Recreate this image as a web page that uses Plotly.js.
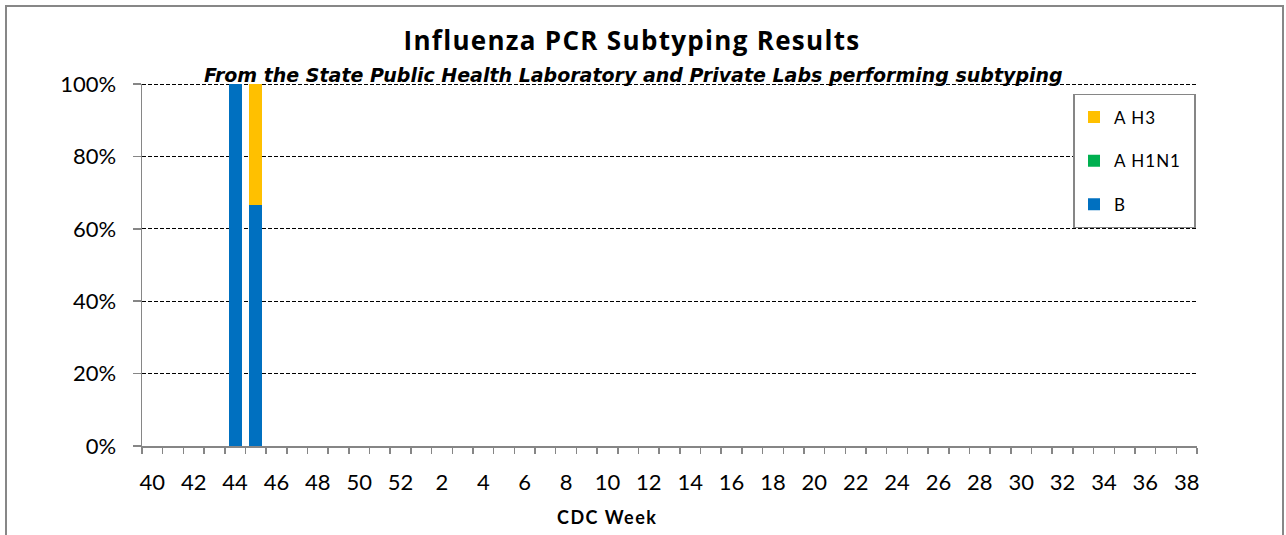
<!DOCTYPE html>
<html>
<head>
<meta charset="utf-8">
<script src="https://cdn.plot.ly/plotly-3.0.1.min.js"></script>
<style>
html,body{margin:0;padding:0;background:#fff;}
#chart{width:1286px;height:535px;}
#chart .gtitle{letter-spacing:1.3px;}
#chart .legendtext{letter-spacing:1px;}
#chart .annotation.cdc text{letter-spacing:1.5px;}
#chart .ygrid, #chart .shapelayer path{shape-rendering:crispEdges;}
</style>
</head>
<body>
<div id="chart"></div>
<script>
// CDC weeks (season order)
const weeks = ["40","41","42","43","44","45","46","47","48","49","50","51","52",
  "1","2","3","4","5","6","7","8","9","10","11","12","13","14","15","16","17","18","19",
  "20","21","22","23","24","25","26","27","28","29","30","31","32","33","34","35","36","37","38"];
// Share of subtyped specimens per week (fraction), weeks 40-45
const shareB    = [null,null,null,null,1.0,0.667];
const shareH1N1 = [null,null,null,null,0,0];
const shareH3   = [null,null,null,null,0,0.333];
// Tick labels: every other week
const tickLabels = weeks.map((w,i)=> i%2===0 ? w : "");

const FONT = "Lato, 'Open Sans', sans-serif";
const weeksShown = weeks.slice(0, shareB.length);

const traces = [
  {name:"B", x:weeksShown, y:shareB, type:"bar", marker:{color:"#0070C0"}, legendrank:3, legendgroup:"g3"},
  {name:"A H1N1", x:weeksShown, y:shareH1N1, type:"bar", marker:{color:"#00B050"}, legendrank:2, legendgroup:"g2"},
  {name:"A H3", x:weeksShown, y:shareH3, type:"bar", marker:{color:"#FFC000"}, legendrank:1, legendgroup:"g1"}
];

const px2x = p => (p-142)/1055;
const px2y = p => (446.5-p)/362;

const layout = {
  width:1286, height:535,
  margin:{l:142, r:89, t:84, b:89},
  paper_bgcolor:"#fff", plot_bgcolor:"#fff",
  font:{family:FONT, color:"#000"},
  barmode:"stack", bargap:0.37,
  showlegend:true,
  title:{text:"<b>Influenza PCR Subtyping Results</b>", font:{family:"'Open Sans', sans-serif", size:26, color:"#000"},
    x:632/1286, xanchor:"center", y:1-41/535, yanchor:"middle"},
  annotations:[{
    text:"<b><i>From the State Public Health Laboratory and Private Labs performing subtyping</i></b>",
    xref:"paper", yref:"paper", x:px2x(633), y:px2y(75), xanchor:"center", yanchor:"middle",
    showarrow:false, font:{family:"'DejaVu Sans', sans-serif", size:19, color:"#000"}
  },{
    text:"<b>CDC Week</b>", name:"cdc",
    xref:"paper", yref:"paper", x:px2x(607), y:px2y(517), xanchor:"center", yanchor:"middle",
    showarrow:false, font:{family:FONT, size:18, color:"#000"}
  }],
  xaxis:{
    type:"category", categoryorder:"array", categoryarray:weeks,
    range:[-0.5, weeks.length-0.5],
    tickmode:"array", tickvals:weeks, ticktext:tickLabels,
    tickson:"boundaries", ticks:"outside", ticklen:6, tickcolor:"#868686", tickwidth:1.5,
    showline:true, linecolor:"#868686", linewidth:1.5,
    showgrid:false, tickfont:{size:22, family:FONT}, tickangle:0, ticklabelstandoff:16
  },
  yaxis:{
    range:[0,1], tickmode:"linear", tick0:0, dtick:0.2, tickformat:".0%",
    showgrid:true, gridcolor:"#000", griddash:"4px,2px", gridwidth:1,
    zeroline:false, showline:true, linecolor:"#868686", linewidth:1.5,
    ticks:"outside", ticklen:8, tickcolor:"#868686", tickwidth:1.5,
    tickfont:{size:22, family:FONT}, ticklabelstandoff:12
  },
  legend:{
    x:px2x(1074), y:px2y(100), xanchor:"left", yanchor:"top",
    borderwidth:0, bgcolor:"rgba(0,0,0,0)",
    traceorder:"grouped", itemwidth:30, tracegroupgap:18.5,
    font:{size:17, family:FONT}
  },
  shapes:[{
    type:"rect", xref:"paper", yref:"paper",
    x0:px2x(5.5), x1:px2x(1283), y0:-0.5, y1:px2y(6.5),
    line:{color:"#878787", width:2}, fillcolor:"rgba(0,0,0,0)", layer:"below"
  },{
    type:"line", xref:"paper", yref:"y", x0:0, x1:1, y0:1, y1:1,
    line:{color:"#000", width:1, dash:"4px,2px"}, layer:"below"
  },{
    // legend frame
    type:"rect", xref:"paper", yref:"paper",
    x0:px2x(1074), x1:px2x(1195), y0:px2y(228), y1:px2y(95),
    line:{color:"#868686", width:1.5}, fillcolor:"#fff", layer:"above"
  }]
};

Plotly.newPlot("chart", traces, layout, {displayModeBar:false, staticPlot:true}).then(()=>{
  const anns = document.querySelectorAll("#chart .annotation");
  if (anns[1]) anns[1].classList.add("cdc");
});
</script>
</body>
</html>
